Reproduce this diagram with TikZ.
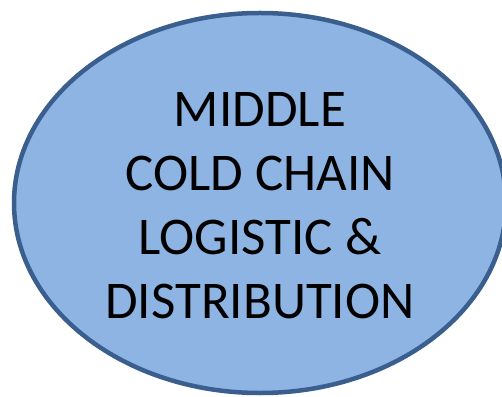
\documentclass[tikz,border=0pt]{standalone}
\usepackage{fontspec}
\setmainfont{Carlito}
\usetikzlibrary{shapes.geometric,positioning}
\definecolor{chainfill}{HTML}{8EB4E3}
\definecolor{chainline}{HTML}{3A5F8F}
\begin{document}
\begin{tikzpicture}
  
  \tikzset{main node/.style={ellipse, draw=chainline, fill=chainfill,
  		line width=4.5pt, text centered, align=center,
  		minimum width=492pt, minimum height=380pt, inner sep=0pt}, }
  \tikzset{main text/.style={font=\fontsize{53}{64}\selectfont}, }
\useasboundingbox (0,0) rectangle (502pt,396pt);
\node[main node] (middle) at (260pt,193pt) {};
\node[main text, align=center] (label) at ([yshift=-3pt]middle.center) {MIDDLE\\COLD CHAIN\\LOGISTIC \&\\DISTRIBUTION};
%%  
\end{tikzpicture}
\end{document}
